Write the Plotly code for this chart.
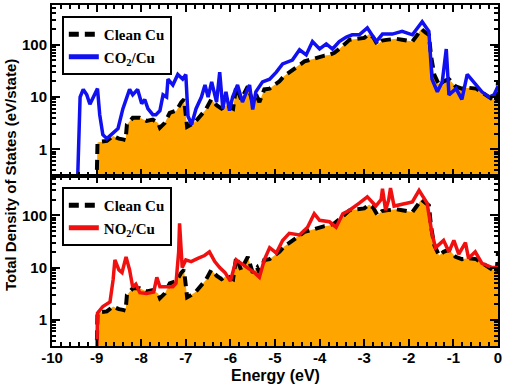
import plotly.graph_objects as go

# ---------------- data ----------------
clean_energy = [
    -9.00, -8.98, -8.90, -8.77, -8.63, -8.50, -8.41, -8.35, -8.32, -8.19,
    -8.03, -7.88, -7.74, -7.62, -7.58, -7.47, -7.36, -7.21, -7.10, -7.04,
    -6.97, -6.90, -6.77, -6.55, -6.43, -6.31, -6.20, -6.09, -5.94, -5.87,
    -5.76, -5.61, -5.50, -5.40, -5.35, -5.24, -5.12, -5.00, -4.90, -4.80,
    -4.68, -4.56, -4.45, -4.34, -4.23, -4.12, -4.00, -3.89, -3.78, -3.67,
    -3.56, -3.45, -3.33, -3.22, -3.11, -3.00, -2.89, -2.80, -2.70, -2.60,
    -2.50, -2.40, -2.28, -2.15, -2.03, -1.92, -1.82, -1.72, -1.62, -1.55,
    -1.50, -1.43, -1.32, -1.22, -1.10, -0.95, -0.81, -0.65, -0.49, -0.35,
    -0.20, -0.10, -0.03, 0.00]
clean_dos = [
    0.2, 1.35, 1.4, 1.45, 1.8, 1.6, 1.55, 1.5, 3.0, 4.0,
    4.0, 3.5, 3.7, 3.2, 2.6, 3.2, 5.0, 5.5, 8.0, 9.0,
    2.7, 2.9, 3.5, 5.8, 9.0, 7.0, 6.0, 7.0, 6.0, 16,
    9, 16, 8, 10, 8, 14, 14.5, 17, 20, 25,
    30, 35, 42, 48, 51, 55, 59, 62, 64, 70,
    83, 100, 124, 128, 130, 135, 160, 140, 100, 120,
    124, 128, 130, 125, 120, 115, 150, 200, 170, 155,
    60, 27, 17, 20, 22, 16, 14.5, 15, 14.5, 12,
    10, 9, 8, 20]

co2_energy = [
    -9.44, -9.40, -9.37, -9.30, -9.22, -9.15, -9.04, -8.98, -8.93, -8.86,
    -8.77, -8.64, -8.52, -8.41, -8.26, -8.19, -8.08, -7.99, -7.92, -7.85,
    -7.74, -7.67, -7.58, -7.51, -7.43, -7.40, -7.29, -7.18, -7.07, -7.00,
    -6.95, -6.87, -6.77, -6.65, -6.57, -6.50, -6.42, -6.31, -6.24, -6.17,
    -6.10, -6.02, -5.95, -5.84, -5.73, -5.61, -5.57, -5.50, -5.43, -5.28,
    -5.12, -4.97, -4.83, -4.61, -4.45, -4.30, -4.16, -4.00, -3.85, -3.71,
    -3.56, -3.40, -3.27, -3.11, -2.93, -2.73, -2.59, -2.37, -2.15, -1.92,
    -1.70, -1.55, -1.48, -1.36, -1.25, -1.16, -1.10, -0.94, -0.81, -0.69,
    -0.49, -0.36, -0.20, -0.09, 0.00]
co2_dos = [
    0.1, 3.0, 10, 14, 11, 7.3, 11.4, 14.5, 4.6, 1.9,
    1.6, 2.0, 2.5, 6, 14, 11, 14, 7.5, 9, 6,
    4.6, 4.6, 5.5, 11, 10, 22, 17, 27, 22, 27,
    4.3, 3.0, 6, 10, 17, 10, 19.5, 8, 30, 6,
    12.6, 5.5, 10, 17, 8, 14.5, 17, 5.8, 12.6, 19.5,
    22, 30, 43, 51, 80, 64, 115, 83, 104, 83,
    115, 140, 155, 155, 210, 115, 160, 160, 180, 155,
    275, 180, 22, 12.6, 19.5, 83, 11, 14.5, 9, 27,
    17, 12.6, 10, 11, 16]

no2_energy = [
    -9.00, -8.98, -8.86, -8.70, -8.63, -8.59, -8.50, -8.43, -8.34, -8.26,
    -8.19, -8.12, -8.03, -7.88, -7.72, -7.65, -7.58, -7.43, -7.29, -7.22,
    -7.16, -7.14, -7.11, -7.08, -7.00, -6.88, -6.73, -6.58, -6.47, -6.35,
    -6.24, -6.12, -6.00, -5.87, -5.76, -5.61, -5.46, -5.35, -5.24, -5.12,
    -4.97, -4.83, -4.68, -4.45, -4.27, -4.12, -4.00, -3.78, -3.63, -3.48,
    -3.33, -3.11, -2.93, -2.74, -2.62, -2.59, -2.52, -2.45, -2.41, -2.33,
    -2.15, -1.92, -1.77, -1.59, -1.48, -1.40, -1.22, -1.10, -0.99, -0.88,
    -0.73, -0.66, -0.51, -0.36, -0.13, 0.00]
no2_dos = [
    0.1, 1.35, 1.8, 2.2, 5.8, 14, 9, 8, 16, 9,
    4.2, 4.8, 3.3, 3.2, 3.4, 6.5, 4.3, 4.3, 4.3, 5,
    20, 70, 25, 10, 14, 13, 15, 17, 20, 13,
    10, 8, 5.5, 14, 12, 10, 8, 6.5, 14, 24,
    19, 33, 45, 42, 59, 107, 80, 75, 59, 107,
    125, 170, 225, 150, 200, 320, 125, 200, 330, 150,
    160, 180, 300, 170, 45, 24, 33, 20, 33, 18,
    30, 15, 20, 12, 10, 10]

y_tickvals = [1, 10, 100]
y_ticktext = ["1", "10", "100"]
x_tickvals = [-10, -9, -8, -7, -6, -5, -4, -3, -2, -1, 0]
x_ticktext = ["-10", "-9", "-8", "-7", "-6", "-5", "-4", "-3", "-2", "-1", "0"]

# ---------------- styles ----------------
ORANGE = "#FFA500"
BLUE = "#1010F0"
RED = "#F01010"
SANS = "Liberation Sans"
SERIF = "Liberation Serif"

fig = go.Figure()

panels = [
    ("x", "y", "legend", co2_energy, co2_dos, "CO<sub>2</sub>/Cu", BLUE),
    ("x2", "y2", "legend2", no2_energy, no2_dos, "NO<sub>2</sub>/Cu", RED),
]
for xa, ya, lg, e, d, name, col in panels:
    fig.add_trace(go.Scatter(x=clean_energy, y=clean_dos, xaxis=xa, yaxis=ya,
                             mode="lines", line=dict(width=0, color=ORANGE),
                             fill="tozeroy", fillcolor=ORANGE, showlegend=False,
                             hoverinfo="skip"))
    fig.add_trace(go.Scatter(x=clean_energy, y=clean_dos, xaxis=xa, yaxis=ya,
                             mode="lines", name="Clean Cu", legend=lg,
                             line=dict(color="black", width=4, dash="10px,6px")))
    fig.add_trace(go.Scatter(x=e, y=d, xaxis=xa, yaxis=ya, mode="lines",
                             name=name, legend=lg,
                             line=dict(color=col, width=3.5)))

minor_y = [v * m for m in (0.1, 1, 10, 100) for v in range(2, 10)]

xcommon = dict(range=[-10, 0], tickvals=x_tickvals, ticktext=x_ticktext,
               ticks="inside", ticklen=7, tickwidth=2, tickcolor="black",
               minor=dict(ticks="inside", dtick=0.2, ticklen=4, tickwidth=1.5,
                          tickcolor="black"),
               showline=True, linewidth=2, linecolor="black", mirror="allticks",
               showgrid=False, zeroline=False,
               tickfont=dict(family=SANS, size=15, color="black", weight="bold"))
ycommon = dict(type="log", range=[-0.5, 2.76], tickvals=y_tickvals, ticktext=y_ticktext,
               ticks="inside", ticklen=8, tickwidth=2, tickcolor="black",
               minor=dict(ticks="inside", tickvals=minor_y, ticklen=4, tickwidth=1.5,
                          tickcolor="black"),
               showline=True, linewidth=2, linecolor="black", mirror="allticks",
               showgrid=False, zeroline=False,
               tickfont=dict(family=SANS, size=15, color="black", weight="bold"))

legcommon = dict(x=0.022, xanchor="left", yanchor="top", bgcolor="white",
                 bordercolor="black", borderwidth=2, itemwidth=30,
                 font=dict(family=SERIF, size=15, color="black", weight="bold"),
                 tracegroupgap=0, itemsizing="constant")

fig.update_layout(
    width=505, height=384,
    margin=dict(l=52, r=6, t=3, b=38),
    paper_bgcolor="white", plot_bgcolor="white",
    xaxis=dict(domain=[0, 1], anchor="y", showticklabels=False, **xcommon),
    yaxis=dict(domain=[0.5, 1], anchor="x", **ycommon),
    xaxis2=dict(domain=[0, 1], anchor="y2", ticklabelstandoff=-3, **xcommon),
    yaxis2=dict(domain=[0, 0.5], anchor="x2", **ycommon),
    legend=dict(y=0.968, **legcommon),
    legend2=dict(y=0.466, **legcommon),
    annotations=[
        dict(text="Total Density of States (eV/state)", xref="paper", yref="paper",
             x=-0.093, y=0.5, textangle=-90, showarrow=False, xanchor="center",
             yanchor="middle",
             font=dict(family=SANS, size=15, color="black", weight="bold")),
        dict(text="Energy (eV)", xref="paper", yref="paper", x=0.5, y=-0.086,
             showarrow=False, xanchor="center", yanchor="middle",
             font=dict(family=SANS, size=16, color="black", weight="bold")),
    ],
)

fig.write_html("out.html",
               config={"displayModeBar": False},
               post_script="document.body.style.margin='0';document.body.style.padding='0';")
